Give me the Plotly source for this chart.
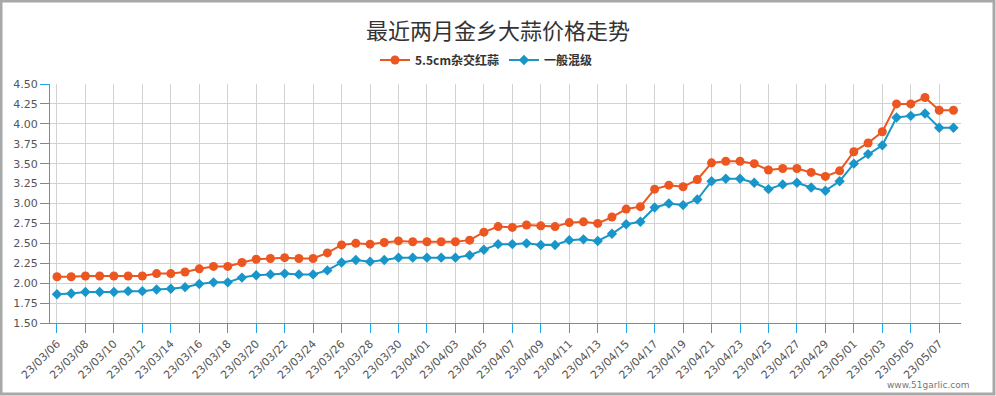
import plotly.graph_objects as go
import datetime as dt

start = dt.date(2023, 3, 6)
dates = [(start + dt.timedelta(days=i)).strftime("%y/%m/%d") for i in range(64)]

red_garlic = [2.08, 2.08, 2.09, 2.09, 2.09, 2.09, 2.09, 2.12, 2.12, 2.14,
              2.18, 2.21, 2.21, 2.26, 2.30, 2.31, 2.32, 2.31, 2.31, 2.38,
              2.48, 2.50, 2.49, 2.51, 2.53, 2.52,
              2.52, 2.52, 2.52, 2.54, 2.64, 2.71, 2.70, 2.73, 2.72, 2.71,
              2.76, 2.77, 2.75, 2.83, 2.93, 2.96, 3.18, 3.23, 3.21, 3.30,
              3.51, 3.53, 3.53, 3.50, 3.42, 3.44, 3.44, 3.39, 3.34, 3.41,
              3.65, 3.76, 3.90, 4.25, 4.25, 4.33, 4.17, 4.17]
mixed = [1.86, 1.87, 1.89, 1.89, 1.89, 1.90, 1.90, 1.92, 1.93, 1.95,
         1.99, 2.01, 2.01, 2.07, 2.10, 2.11, 2.12, 2.11, 2.11, 2.16,
         2.26, 2.29, 2.27, 2.29, 2.32, 2.32,
         2.32, 2.32, 2.32, 2.35, 2.42, 2.49, 2.49, 2.50, 2.48, 2.48,
         2.54, 2.55, 2.53, 2.62, 2.74, 2.77, 2.95, 3.00, 2.98, 3.05,
         3.28, 3.31, 3.31, 3.26, 3.18, 3.24, 3.26, 3.20, 3.16, 3.28,
         3.50, 3.62, 3.73, 4.08, 4.10, 4.13, 3.95, 3.95]
series_names = ["5.5cm杂交红蒜", "一般混级"]
tick_labels = dates[::2]

ORANGE = "#ec5620"
BLUE = "#1895c9"
AXIS = "#22a8e2"

fig = go.Figure()
fig.add_trace(go.Scatter(x=dates, y=red_garlic, name=series_names[0], mode="lines+markers",
                         line=dict(color=ORANGE, width=2),
                         marker=dict(symbol="circle", size=9, color=ORANGE)))
fig.add_trace(go.Scatter(x=dates, y=mixed, name=series_names[1], mode="lines+markers",
                         line=dict(color=BLUE, width=2),
                         marker=dict(symbol="diamond", size=8, color=BLUE)))

W, H = 996, 396
L, R, T, B = 50, 35, 84, 73
pw, ph = W - L - R, H - T - B

def px(x):
    return (x - L) / pw

def py(y):
    return (H - B - y) / ph

fig.update_layout(
    width=W, height=H,
    margin=dict(l=L, r=R, t=T, b=B, autoexpand=False),
    paper_bgcolor="white", plot_bgcolor="white",
    title=dict(text="最近两月金乡大蒜价格走势", x=0.5, xanchor="center", xref="container",
               y=1 - 31 / H, yanchor="middle", yref="container",
               font=dict(family="Noto Sans CJK SC", size=22, color="#333333")),
    legend=dict(orientation="h", x=px(486), xanchor="center", y=py(60), yanchor="middle",
                font=dict(family="Noto Sans CJK SC", size=12, color="#333333", weight="bold"),
                itemwidth=30, bgcolor="rgba(0,0,0,0)"),
    font=dict(family="DejaVu Sans", size=11, color="#555555"),
    showlegend=True,
    xaxis=dict(type="category", range=[-0.49, 63.53], tickmode="array", tickvals=tick_labels,
               ticktext=tick_labels, tickangle=-45, showgrid=True, gridcolor="#d2d2d2",
               gridwidth=1, showline=True, linecolor=AXIS, linewidth=1, automargin=False,
               ticks="outside", ticklen=9, tickcolor=AXIS, zeroline=False,
               tickfont=dict(family="DejaVu Sans", size=11, color="#555555")),
    yaxis=dict(range=[1.5, 4.5], dtick=0.25, tick0=1.5, tickformat=".2f", automargin=False,
               showgrid=True, gridcolor="#d2d2d2", gridwidth=1,
               showline=True, linecolor=AXIS, linewidth=1,
               ticks="outside", ticklen=9, tickcolor=AXIS, zeroline=False,
               tickfont=dict(family="DejaVu Sans", size=11, color="#555555")),
    shapes=[dict(type="rect", xref="paper", yref="paper",
                 x0=px(1), x1=px(W - 2), y0=py(1), y1=py(H - 2),
                 line=dict(color="#a8a8a8", width=3), fillcolor="rgba(0,0,0,0)", layer="above")],
    annotations=[dict(text="www.51garlic.com", xref="paper", yref="paper",
                      x=px(972), xanchor="right", y=py(385), yanchor="middle",
                      showarrow=False, font=dict(family="DejaVu Sans", size=9, color="#777777"))],
)

fig.write_html("out.html", config={"displayModeBar": False},
               post_script="document.body.style.margin='0';document.body.style.padding='0';")
